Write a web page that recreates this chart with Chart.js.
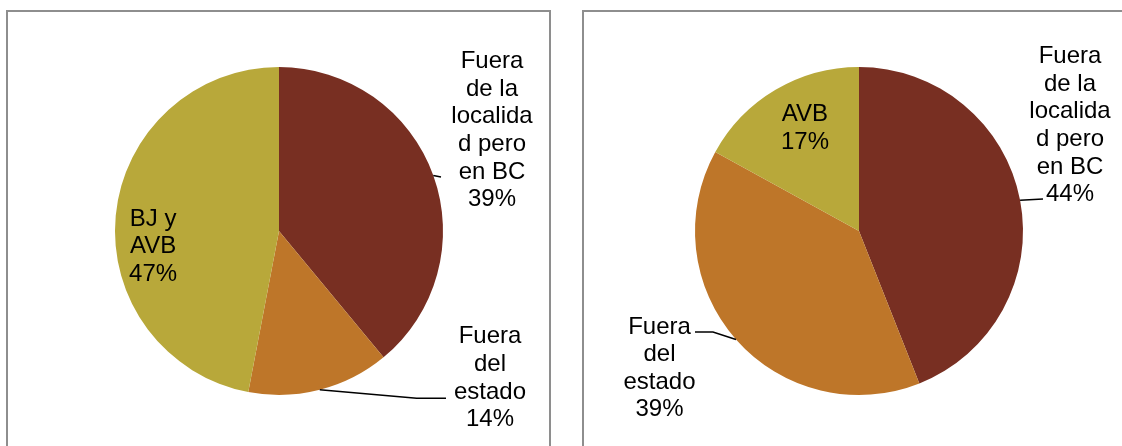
<!DOCTYPE html>
<html>
<head>
<meta charset="utf-8">
<script src="https://cdn.jsdelivr.net/npm/chart.js@4/dist/chart.umd.min.js"></script>
<style>
  html, body { margin: 0; padding: 0; background: #fff; }
  body { width: 1122px; height: 446px; position: relative; overflow: hidden; }
  .frame { position: absolute; box-sizing: border-box; border: 2px solid #8e8e8e; }
  canvas { position: absolute; }
</style>
</head>
<body>
<div class="frame" style="left:6px; top:10px; width:545px; height:460px;"></div>
<div class="frame" style="left:582px; top:10px; width:560px; height:460px;"></div>
<canvas id="left" width="544" height="435" style="left:7px; top:11px;"></canvas>
<canvas id="right" width="539" height="435" style="left:583px; top:11px;"></canvas>
<script>
// slice labels, wrapped the way the original shows them
const leftCategories = [['Fuera', 'de la', 'localida', 'd pero', 'en BC'], ['Fuera', 'del', 'estado'], ['BJ y', 'AVB']];
const leftValues = [39, 14, 47];

const rightCategories = [['Fuera', 'de la', 'localida', 'd pero', 'en BC'], ['Fuera', 'del', 'estado'], ['AVB']];
const rightValues = [44, 39, 17];

const sliceColors = ['#782F22', '#BE7629', '#B8A83A'];

// label placement, relative to the point at the slice's mid-angle (r = fraction of radius)
const leftLabelLayout = [
  { r: 1, dx: 58.7, dy: -107.2, leader: [[7.7, 1.5]] },
  { r: 1, dx: 170.2, dy: -46.5, leader: [[96.9, 8.5], [126.2, 8.5]] },
  { r: 0.75, dx: -3.5, dy: 6.3 }
];
const rightLabelLayout = [
  { r: 1, dx: 49.9, dy: -137, leader: [[22.9, -1.3]] },
  { r: 1, dx: -76.5, dy: -5.8, leader: [[-23, -7.5], [-41, -7.5]] },
  { r: 0.75, dx: 8.6, dy: -3.9 }
];

const LINE_H = 27.6;

const sliceLabels = {
  id: 'sliceLabels',
  afterDatasetsDraw(chart, args, opts) {
    const ctx = chart.ctx;
    const meta = chart.getDatasetMeta(0);
    const values = chart.data.datasets[0].data;
    const total = values.reduce((a, b) => a + b, 0);
    ctx.save();
    ctx.font = '24px "Liberation Sans", Arial, sans-serif';
    ctx.fillStyle = '#000';
    ctx.strokeStyle = '#000';
    ctx.lineWidth = 1.5;
    ctx.textAlign = 'center';
    ctx.textBaseline = 'alphabetic';
    meta.data.forEach((arc, i) => {
      const p = arc.getProps(['x', 'y', 'startAngle', 'endAngle', 'outerRadius'], true);
      const mid = (p.startAngle + p.endAngle) / 2;
      const L = opts.layout[i];
      const ax = p.x + Math.cos(mid) * p.outerRadius * L.r;
      const ay = p.y + Math.sin(mid) * p.outerRadius * L.r;
      if (L.leader) {
        ctx.beginPath();
        ctx.moveTo(ax, ay);
        L.leader.forEach(([dx, dy]) => ctx.lineTo(ax + dx, ay + dy));
        ctx.stroke();
      }
      const pct = Math.round(values[i] / total * 100) + '%';
      const lines = [...chart.data.labels[i], pct];
      lines.forEach((t, k) => ctx.fillText(t, ax + L.dx, ay + L.dy + k * LINE_H));
    });
    ctx.restore();
  }
};

function makePie(id, categories, values, layout, padding) {
  return new Chart(document.getElementById(id), {
    type: 'pie',
    data: {
      labels: categories,
      datasets: [{
        data: values,
        backgroundColor: sliceColors,
        borderWidth: 0,
        hoverOffset: 0
      }]
    },
    options: {
      responsive: false,
      animation: false,
      devicePixelRatio: 1,
      layout: { padding },
      events: [],
      plugins: {
        legend: { display: false },
        tooltip: { enabled: false },
        sliceLabels: { layout }
      }
    },
    plugins: [sliceLabels]
  });
}

makePie('left', leftCategories, leftValues, leftLabelLayout, { left: 108, top: 56, right: 108, bottom: 51 });
makePie('right', rightCategories, rightValues, rightLabelLayout, { left: 112, top: 56, right: 99, bottom: 51 });
</script>
</body>
</html>
